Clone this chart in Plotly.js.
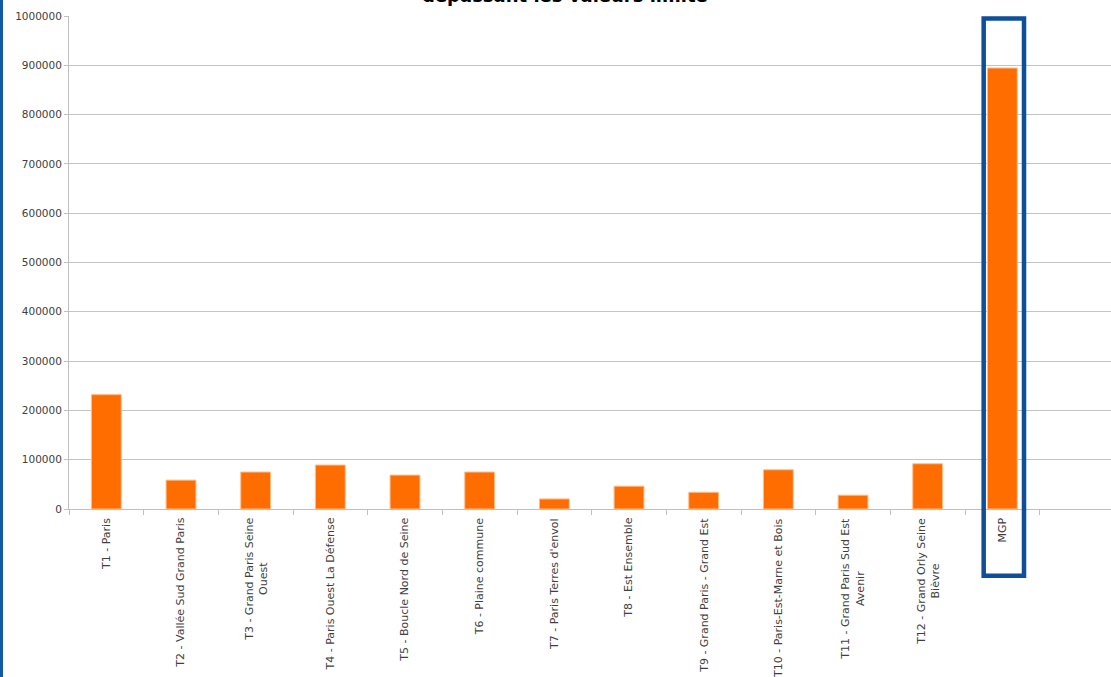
<!DOCTYPE html>
<html>
<head>
<meta charset="utf-8">
<script src="https://cdn.plot.ly/plotly-3.0.1.min.js"></script>
<style>
html,body{margin:0;padding:0;background:#fff;overflow:hidden;}
#chart{width:1111px;height:677px;}
#edge{position:absolute;left:0;top:0;width:3px;height:677px;background:#1458a8;}
</style>
</head>
<body>
<div id="chart"></div>
<div id="edge"></div>
<script>
const categories = [
  "T1 - Paris",
  "T2 - Vallée Sud Grand Paris",
  "T3 - Grand Paris Seine<br>Ouest",
  "T4 - Paris Ouest La Défense",
  "T5 - Boucle Nord de Seine",
  "T6 - Plaine commune",
  "T7 - Paris Terres d'envol",
  "T8 - Est Ensemble",
  "T9 - Grand Paris - Grand Est",
  "T10 - Paris-Est-Marne et Bois",
  "T11 - Grand Paris Sud Est<br>Avenir",
  "T12 - Grand Orly Seine<br>Bièvre",
  "MGP",
  " "
];
const values = [232000, 58600, 75000, 89200, 68800, 75000, 20400, 46300, 34000, 79600, 28000, 91800, 894500, null];
const yTicks = [0,100000,200000,300000,400000,500000,600000,700000,800000,900000,1000000];
const titleText = "Nombre d'habitants exposés à des concentrations de NO2<br>dépassant les valeurs limite";
const highlighted = "MGP";

const hiIdx = categories.indexOf(highlighted);
const FONT = 'DejaVu Sans, Verdana, sans-serif';

const trace = {
  type: 'bar',
  x: categories,
  y: values,
  marker: {color: '#ff6d00', line: {color: '#ffbf8c', width: 1}},
  width: 0.4,
  hoverinfo: 'x+y'
};

const labelAnnotations = categories.map((c, i) => ({
  text: c, x: c, xref: 'x', y: -0.0135, yref: 'paper',
  xanchor: 'center', yanchor: 'top', textangle: -90, align: 'center',
  showarrow: false, font: {family: FONT, size: 11, color: '#404040'}
}));

const titleAnnotation = {
  text: titleText, xref: 'paper', yref: 'paper', x: 0.476, y: 1.016,
  xanchor: 'center', yanchor: 'bottom', align: 'center', showarrow: false,
  font: {family: FONT, size: 18, color: '#000', weight: 'bold'}
};

const layout = {
  width: 1111, height: 677,
  margin: {l: 69, r: 0, t: 16, b: 168},
  paper_bgcolor: '#ffffff', plot_bgcolor: '#ffffff',
  showlegend: false,
  font: {family: FONT, size: 11, color: '#404040'},
  xaxis: {
    type: 'category',
    categoryorder: 'array', categoryarray: categories,
    range: [-0.5, 13.455],
    tickson: 'boundaries',
    ticks: 'outside', ticklen: 5, tickcolor: '#bfbfbf', tickwidth: 1,
    showticklabels: false,
    showline: true, linecolor: '#bfbfbf', linewidth: 1,
    showgrid: false, zeroline: false,
    automargin: false
  },
  yaxis: {
    range: [0, 1000000],
    tickvals: yTicks,
    ticktext: yTicks.map(v => String(v)),
    ticks: 'outside', ticklen: 4, tickcolor: '#bfbfbf',
    showline: true, linecolor: '#bfbfbf', linewidth: 1,
    gridcolor: '#c4c4c4', gridwidth: 1,
    zeroline: false,
    tickfont: {family: FONT, size: 10.5, color: '#404040'},
    automargin: false
  },
  annotations: [titleAnnotation].concat(labelAnnotations),
  shapes: [{
    type: 'rect', xref: 'x', yref: 'paper',
    x0: hiIdx - 0.25, x1: hiIdx + 0.29,
    y0: -0.1355, y1: 0.995,
    line: {color: '#0f4f9a', width: 4.5},
    fillcolor: 'rgba(0,0,0,0)',
    layer: 'above'
  }]
};

Plotly.newPlot('chart', [trace], layout, {displayModeBar: false, staticPlot: true});
</script>
</body>
</html>
